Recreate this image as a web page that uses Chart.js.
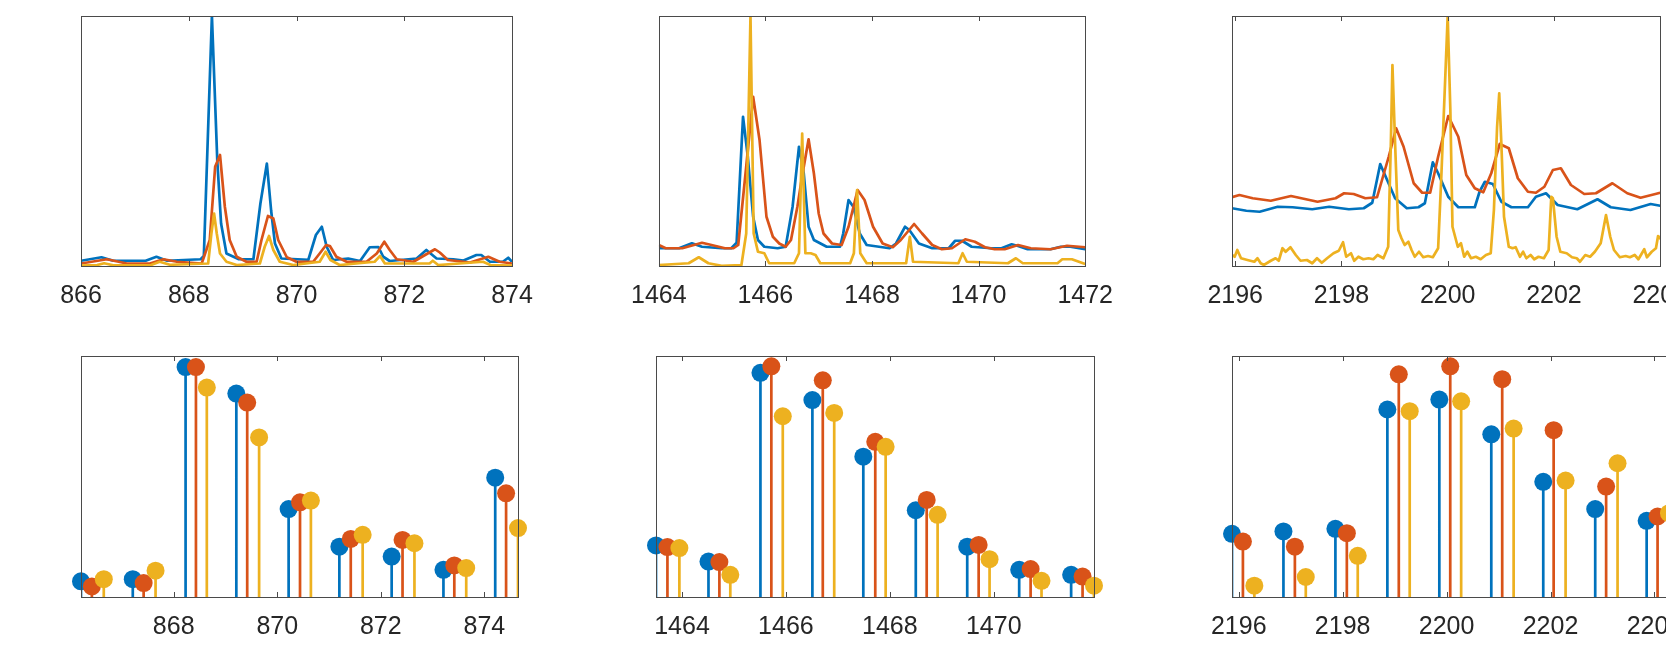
<!DOCTYPE html>
<html>
<head>
<meta charset="utf-8">
<script src="https://cdn.jsdelivr.net/npm/chart.js@4.4.1/dist/chart.umd.min.js"></script>
<style>
  html, body { margin: 0; padding: 0; background: #fff; overflow: hidden; width: 1666px; height: 653px; }
  canvas { position: absolute; }
</style>
</head>
<body>
<canvas id="c1" width="511" height="310" style="left:41px;top:6px"></canvas>
<canvas id="c2" width="512" height="310" style="left:616px;top:6px"></canvas>
<canvas id="c3" width="511" height="310" style="left:1192px;top:6px"></canvas>
<canvas id="c4" width="517" height="301" style="left:41px;top:346px"></canvas>
<canvas id="c5" width="518" height="301" style="left:616px;top:346px"></canvas>
<canvas id="c6" width="517" height="301" style="left:1192px;top:346px"></canvas>
<script>
// ---- top row: spectra (relative intensity, 0-100) ----
const p1BlueX = [866.0, 866.38, 866.6, 867.2, 867.4, 867.6, 868.22, 868.28, 868.43, 868.53, 868.6, 868.7, 868.93, 869.2, 869.33, 869.45, 869.53, 869.6, 869.72, 870.22, 870.36, 870.47, 870.56, 870.68, 870.96, 871.18, 871.36, 871.52, 871.61, 871.73, 872.23, 872.41, 872.6, 872.91, 873.1, 873.34, 873.43, 873.59, 873.83, 873.93, 874.0];
const p1BlueY = [2.1, 3.5, 2.1, 2.1, 3.7, 2.1, 2.7, 4, 100, 42, 17, 5, 2.7, 2.7, 25, 41, 22, 9, 3, 2.5, 12.4, 15.7, 7.7, 2.4, 3, 2, 7.5, 7.6, 3.7, 2, 3, 6.4, 3, 2.7, 2.2, 4.4, 4.4, 1.7, 1.7, 3.3, 1.7];
const p1RedX = [866.0, 866.48, 866.85, 867.28, 867.53, 867.78, 868.24, 868.39, 868.49, 868.58, 868.67, 868.76, 868.89, 869.07, 869.26, 869.35, 869.47, 869.57, 869.66, 869.82, 870.0, 870.31, 870.43, 870.55, 870.62, 870.74, 870.93, 871.3, 871.49, 871.63, 871.73, 871.86, 872.17, 872.41, 872.57, 872.66, 872.81, 873.22, 873.56, 873.77, 874.0];
const p1RedY = [1, 2.7, 1, 1, 2.7, 1.7, 1, 10.4, 39.7, 44.4, 23.7, 10.4, 3.7, 1.7, 1.7, 10.4, 20, 19, 10.4, 3.5, 1.7, 1.7, 5, 8.4, 8, 3.7, 1.7, 1.7, 5, 9.7, 6.4, 2.7, 1.7, 4.7, 6.7, 5.4, 2.4, 1.4, 3.7, 1.7, 1];
const p1YellowX = [866.0, 866.3, 866.43, 866.6, 867.3, 867.46, 867.65, 868.36, 868.42, 868.47, 868.52, 868.58, 868.7, 868.89, 869.32, 869.41, 869.49, 869.57, 869.69, 869.94, 870.43, 870.54, 870.63, 870.8, 871.45, 871.55, 871.64, 872.47, 872.53, 872.63, 873.46, 873.6, 874.0];
const p1YellowY = [0.2, 0.4, 1.1, 0.3, 0.4, 1.7, 0.5, 1, 13, 21, 13, 5, 1.7, 0.4, 1, 7.7, 12, 6.4, 1.7, 0.4, 1.7, 5.7, 2.4, 0.4, 1.7, 4, 1, 1, 2.1, 0.4, 1.7, 0.4, 0.2];

const p2BlueX = [1464.0, 1464.38, 1464.62, 1464.81, 1465.18, 1465.36, 1465.46, 1465.58, 1465.67, 1465.77, 1465.86, 1465.98, 1466.23, 1466.38, 1466.51, 1466.63, 1466.72, 1466.81, 1466.91, 1467.15, 1467.4, 1467.46, 1467.56, 1467.65, 1467.77, 1467.9, 1468.33, 1468.45, 1468.62, 1468.7, 1468.88, 1469.13, 1469.44, 1469.56, 1469.69, 1469.87, 1470.24, 1470.43, 1470.62, 1470.74, 1470.92, 1471.35, 1471.54, 1471.72, 1472.0];
const p2BlueY = [7.1, 7.1, 9.1, 7.7, 7.1, 7.1, 9.3, 59.7, 43.7, 19.7, 10.4, 7.7, 7.1, 7.7, 23.7, 47.7, 37, 15.7, 10.4, 7.7, 7.7, 13, 26.4, 23.7, 13, 8.4, 7.1, 9, 15.7, 14.4, 9, 7.1, 7.1, 10.1, 10.1, 7.7, 7.1, 7.1, 8.7, 8, 6.7, 6.7, 7.7, 7.7, 6.7];
const p2RedX = [1464.0, 1464.13, 1464.44, 1464.81, 1464.99, 1465.24, 1465.4, 1465.49, 1465.64, 1465.77, 1465.89, 1466.02, 1466.14, 1466.26, 1466.38, 1466.48, 1466.6, 1466.69, 1466.81, 1466.91, 1467.0, 1467.09, 1467.25, 1467.43, 1467.56, 1467.73, 1467.86, 1468.02, 1468.2, 1468.39, 1468.54, 1468.79, 1468.94, 1469.13, 1469.31, 1469.5, 1469.75, 1469.93, 1470.12, 1470.3, 1470.49, 1470.74, 1470.98, 1471.35, 1471.66, 1472.0];
const p2RedY = [8.4, 7.1, 7.1, 9.3, 8.4, 7.1, 7.1, 8.4, 39.7, 67.7, 50.4, 19.7, 11.7, 9, 7.7, 10.4, 23.7, 36, 50.7, 37, 21, 13, 9, 8.4, 15.7, 30.4, 26.4, 15.7, 9, 7.5, 10.4, 16.8, 13, 8.4, 6.7, 7.1, 10.7, 9.7, 7.5, 6.7, 6.7, 8.4, 7.1, 6.7, 8.1, 7.5];
const p2YellowX = [1464.0, 1464.56, 1464.75, 1464.93, 1465.18, 1465.55, 1465.64, 1465.72, 1465.78, 1465.86, 1465.98, 1466.07, 1466.54, 1466.63, 1466.69, 1466.75, 1466.85, 1466.94, 1467.03, 1467.59, 1467.66, 1467.72, 1467.78, 1467.9, 1468.64, 1468.71, 1468.77, 1469.62, 1469.7, 1469.78, 1470.55, 1470.7, 1470.83, 1471.48, 1471.57, 1471.75, 1472.0];
const p2YellowY = [0.4, 1.1, 3.5, 1.1, 0.1, 0.4, 13, 100, 13, 5.7, 5.1, 1.1, 1.1, 5.1, 53, 5.1, 5.1, 4.4, 1.1, 1.1, 5.1, 30.4, 5.1, 1.1, 1.1, 11.7, 1.7, 1.1, 5.1, 1.7, 1.1, 3.1, 1.1, 1.1, 2.7, 2.7, 0.8];

const p3BlueX = [2195.94, 2196.21, 2196.46, 2196.8, 2197.08, 2197.45, 2197.77, 2198.14, 2198.42, 2198.58, 2198.73, 2198.86, 2199.01, 2199.23, 2199.45, 2199.57, 2199.72, 2199.82, 2200.01, 2200.2, 2200.51, 2200.6, 2200.7, 2200.85, 2201.01, 2201.2, 2201.51, 2201.66, 2201.85, 2202.07, 2202.44, 2202.82, 2203.07, 2203.44, 2203.82, 2204.0];
const p3BlueY = [23.1, 22.1, 21.7, 23.7, 23.5, 22.7, 23.7, 22.7, 23.1, 25.3, 40.8, 34.4, 27.1, 23.1, 23.5, 25.1, 41.5, 37.1, 27.7, 23.5, 23.5, 29.7, 33.7, 32.8, 25.7, 23.5, 23.5, 27.7, 29.1, 24.4, 22.7, 26.7, 23.5, 22.4, 24.8, 24.1];
const p3RedX = [2195.94, 2196.08, 2196.33, 2196.67, 2197.05, 2197.55, 2197.89, 2198.05, 2198.23, 2198.45, 2198.67, 2198.89, 2199.03, 2199.17, 2199.36, 2199.52, 2199.67, 2199.82, 2200.01, 2200.2, 2200.35, 2200.51, 2200.67, 2200.82, 2200.98, 2201.15, 2201.32, 2201.51, 2201.66, 2201.82, 2201.98, 2202.13, 2202.32, 2202.57, 2202.79, 2203.1, 2203.38, 2203.63, 2203.91, 2204.0];
const p3RedY = [27.5, 28.4, 27.1, 26.1, 28, 25.7, 27.1, 29.1, 28.8, 27.1, 27.5, 43.7, 55.1, 47.7, 33.1, 29.3, 29.3, 43.7, 60, 51.7, 36.4, 31.1, 29.5, 37.1, 48.8, 47.1, 35.1, 29.7, 29.3, 31.7, 38.4, 39.1, 32.4, 28.8, 29.1, 33.1, 29.1, 27.3, 28.8, 29.3];
const p3YellowX = [2195.94, 2195.99, 2196.04, 2196.11, 2196.23, 2196.36, 2196.42, 2196.48, 2196.54, 2196.67, 2196.76, 2196.82, 2196.89, 2196.95, 2197.04, 2197.14, 2197.23, 2197.35, 2197.45, 2197.54, 2197.63, 2197.73, 2197.85, 2197.95, 2198.03, 2198.09, 2198.18, 2198.24, 2198.32, 2198.41, 2198.51, 2198.6, 2198.68, 2198.79, 2198.88, 2198.93, 2198.96, 2199.01, 2199.07, 2199.13, 2199.19, 2199.26, 2199.32, 2199.38, 2199.46, 2199.54, 2199.63, 2199.72, 2199.82, 2199.88, 2200.0, 2200.05, 2200.09, 2200.19, 2200.25, 2200.31, 2200.37, 2200.44, 2200.53, 2200.62, 2200.72, 2200.81, 2200.87, 2200.93, 2200.97, 2201.01, 2201.06, 2201.15, 2201.22, 2201.28, 2201.36, 2201.42, 2201.48, 2201.56, 2201.63, 2201.71, 2201.81, 2201.9, 2201.95, 2201.98, 2202.05, 2202.12, 2202.24, 2202.34, 2202.43, 2202.49, 2202.59, 2202.68, 2202.77, 2202.88, 2202.98, 2203.06, 2203.13, 2203.24, 2203.35, 2203.43, 2203.52, 2203.59, 2203.7, 2203.75, 2203.84, 2203.92, 2203.96, 2204.03];
const p3YellowY = [4.5, 3.7, 6.4, 3.1, 2.4, 1.7, 3.1, 1.1, 0.4, 2.1, 3.1, 2.1, 7.1, 5.7, 7.5, 4.4, 2.1, 2.4, 1.1, 3.1, 1.3, 3.1, 5.1, 6.1, 9.5, 3.7, 5.1, 2.1, 3.7, 2.7, 3.1, 2.7, 4.4, 3.1, 7.7, 49, 80.4, 49, 14.4, 11.1, 8.4, 9.7, 6.4, 3.7, 5.7, 3.5, 4, 3.5, 7.1, 35.7, 100, 62.4, 15.7, 7.7, 9.1, 3.7, 5.7, 3.1, 3.7, 2.7, 4.4, 5.1, 22.4, 55.7, 69.1, 49, 19.7, 7.7, 7.1, 7.5, 3.7, 5.7, 3.1, 4.4, 2.7, 3.7, 3.1, 6.4, 27.7, 27.1, 11.7, 5.7, 5.1, 3.5, 3.1, 1.7, 4.4, 3.7, 5.7, 9.1, 20.4, 11.7, 6.4, 3.5, 4, 3.5, 4.4, 2.7, 6.7, 3.5, 5.7, 7.1, 12, 10.4];

// ---- bottom row: stem plots (relative abundance, 0-1) ----
const p4BlueX = [866.21, 867.21, 868.23, 869.21, 870.22, 871.2, 872.21, 873.21, 874.21];
const p4BlueY = [0.065, 0.074, 0.954, 0.844, 0.365, 0.209, 0.168, 0.113, 0.495];
const p4RedX = [866.42, 867.42, 868.43, 869.42, 870.44, 871.42, 872.42, 873.42, 874.42];
const p4RedY = [0.044, 0.058, 0.954, 0.807, 0.393, 0.241, 0.237, 0.131, 0.43];
const p4YellowX = [866.65, 867.65, 868.64, 869.65, 870.65, 871.65, 872.65, 873.65, 874.65];
const p4YellowY = [0.074, 0.109, 0.869, 0.662, 0.4, 0.258, 0.223, 0.12, 0.286];

const p5BlueX = [1463.5, 1464.51, 1465.51, 1466.51, 1467.49, 1468.5, 1469.49, 1470.49, 1471.49];
const p5BlueY = [0.214, 0.147, 0.93, 0.817, 0.582, 0.36, 0.209, 0.113, 0.092];
const p5RedX = [1463.72, 1464.72, 1465.72, 1466.71, 1467.72, 1468.71, 1469.71, 1470.71, 1471.71];
const p5RedY = [0.207, 0.145, 0.957, 0.899, 0.644, 0.403, 0.216, 0.116, 0.085];
const p5YellowX = [1463.95, 1464.93, 1465.94, 1466.93, 1467.92, 1468.92, 1469.92, 1470.92, 1471.93];
const p5YellowY = [0.203, 0.092, 0.75, 0.764, 0.623, 0.341, 0.157, 0.067, 0.047];

const p6BlueX = [2195.87, 2196.86, 2197.86, 2198.86, 2199.86, 2200.86, 2201.86, 2202.86, 2203.85];
const p6BlueY = [0.262, 0.272, 0.283, 0.778, 0.819, 0.675, 0.478, 0.365, 0.316];
const p6RedX = [2196.08, 2197.08, 2198.08, 2199.08, 2200.07, 2201.07, 2202.06, 2203.07, 2204.06];
const p6RedY = [0.23, 0.209, 0.265, 0.924, 0.957, 0.904, 0.692, 0.458, 0.334];
const p6YellowX = [2196.3, 2197.29, 2198.29, 2199.29, 2200.28, 2201.29, 2202.29, 2203.29, 2204.28];
const p6YellowY = [0.047, 0.083, 0.171, 0.771, 0.812, 0.699, 0.483, 0.555, 0.348];

// tick labels
const ticks1 = [866, 868, 870, 872, 874];
const ticks2 = [1464, 1466, 1468, 1470, 1472];
const ticks3 = [2196, 2198, 2200, 2202, 2204];
const ticks4 = [868, 870, 872, 874];
const ticks5 = [1464, 1466, 1468, 1470];
const ticks6 = [2196, 2198, 2200, 2202, 2204];

const BLUE = '#0072BD', RED = '#D95319', YELLOW = '#EDB120';
const AXIS = '#262626';

const pts = (xs, ys) => xs.map((x, i) => ({ x, y: ys[i] }));
const stems = (xs, ys) => xs.flatMap((x, i) => [{ x, y: 0 }, { x, y: ys[i] }, { x, y: null }]);

// box round the plot area plus inward tick marks (matlab style)
const frame = {
  id: 'frame',
  afterDraw(chart) {
    const { ctx, chartArea: a, scales } = chart;
    ctx.save();
    ctx.strokeStyle = '#4a4a4a';
    ctx.lineWidth = 1;
    ctx.strokeRect(Math.round(a.left) + 0.5, Math.round(a.top) + 0.5,
      Math.round(a.right - a.left), Math.round(a.bottom - a.top));
    ctx.beginPath();
    scales.x.ticks.forEach(t => {
      const px = Math.round(scales.x.getPixelForValue(t.value)) + 0.5;
      ctx.moveTo(px, a.top); ctx.lineTo(px, a.top + 5);
      ctx.moveTo(px, a.bottom); ctx.lineTo(px, a.bottom - 5);
    });
    ctx.stroke();
    ctx.restore();
  }
};

function makeChart(id, datasets, xmin, xmax, ymax, tickVals) {
  return new Chart(document.getElementById(id), {
    type: 'scatter',
    data: { datasets },
    options: {
      responsive: false,
      animation: false,
      layout: { padding: { left: 40, right: 40, top: 10, bottom: 0 } },
      plugins: { legend: { display: false }, tooltip: { enabled: false } },
      scales: {
        x: {
          type: 'linear',
          min: xmin,
          max: xmax,
          offset: false,
          grid: { display: false, drawTicks: false },
          border: { display: false },
          afterBuildTicks: s => { s.ticks = tickVals.map(v => ({ value: v })); },
          afterFit: s => { s.height = 50; },
          ticks: {
            padding: 15,
            maxRotation: 0,
            autoSkip: false,
            color: AXIS,
            font: { family: 'Liberation Sans, Arial, sans-serif', size: 25 },
            callback: v => String(v)
          }
        },
        y: { display: false, min: 0, max: ymax }
      }
    },
    plugins: [frame]
  });
}

function lineSet(xs, ys, color, order) {
  return { data: pts(xs, ys), showLine: true, borderColor: color, borderWidth: 2.7,
    pointRadius: 0, tension: 0, borderJoinStyle: 'round', order };
}
function stemSets(xs, ys, color, order) {
  return [
    { data: stems(xs, ys), showLine: true, borderColor: color, borderWidth: 2.7,
      pointRadius: 0, spanGaps: false, order: order + 1 },
    { data: pts(xs, ys), showLine: false, pointRadius: 9, pointHoverRadius: 9,
      pointBackgroundColor: color, pointBorderWidth: 0, clip: false, order }
  ];
}

makeChart('c1', [
  lineSet(p1BlueX, p1BlueY, BLUE, 3),
  lineSet(p1RedX, p1RedY, RED, 2),
  lineSet(p1YellowX, p1YellowY, YELLOW, 1)
], 866, 874, 100, ticks1);

makeChart('c2', [
  lineSet(p2BlueX, p2BlueY, BLUE, 3),
  lineSet(p2RedX, p2RedY, RED, 2),
  lineSet(p2YellowX, p2YellowY, YELLOW, 1)
], 1464, 1472, 100, ticks2);

makeChart('c3', [
  lineSet(p3BlueX, p3BlueY, BLUE, 3),
  lineSet(p3RedX, p3RedY, RED, 2),
  lineSet(p3YellowX, p3YellowY, YELLOW, 1)
], 2195.94, 2204, 100, ticks3);

makeChart('c4', [
  ...stemSets(p4BlueX, p4BlueY, BLUE, 5),
  ...stemSets(p4RedX, p4RedY, RED, 3),
  ...stemSets(p4YellowX, p4YellowY, YELLOW, 1)
], 866.21, 874.65, 1, ticks4);

makeChart('c5', [
  ...stemSets(p5BlueX, p5BlueY, BLUE, 5),
  ...stemSets(p5RedX, p5RedY, RED, 3),
  ...stemSets(p5YellowX, p5YellowY, YELLOW, 1)
], 1463.5, 1471.93, 1, ticks5);

makeChart('c6', [
  ...stemSets(p6BlueX, p6BlueY, BLUE, 5),
  ...stemSets(p6RedX, p6RedY, RED, 3),
  ...stemSets(p6YellowX, p6YellowY, YELLOW, 1)
], 2195.87, 2204.28, 1, ticks6);
</script>
</body>
</html>
